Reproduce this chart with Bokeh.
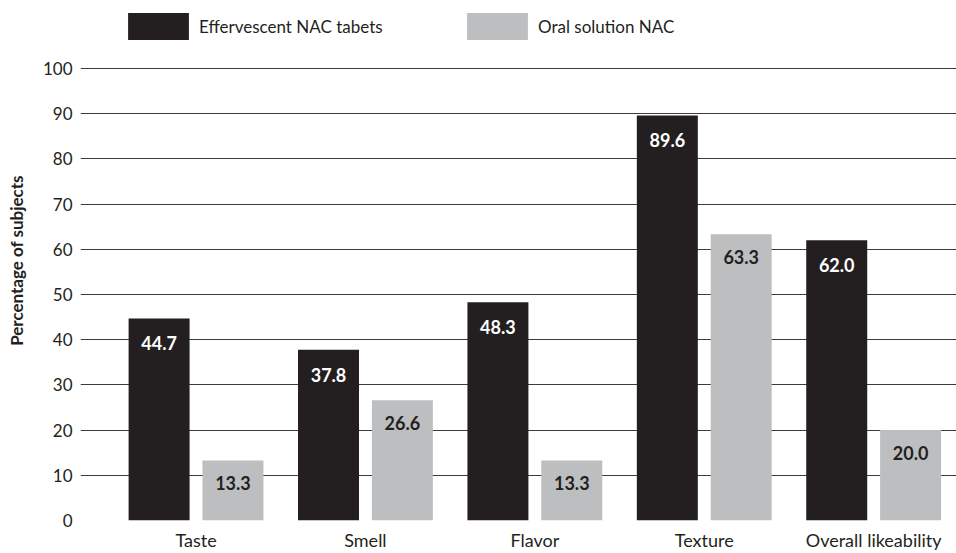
from bokeh.plotting import figure
from bokeh.models import Range1d, FixedTicker, Legend, LegendItem, ColumnDataSource
from bokeh.core.properties import value
from bokeh.embed import file_html
from bokeh.resources import INLINE

# ---- data ----
categories = ["Taste", "Smell", "Flavor", "Texture", "Overall likeability"]
effervescent = [44.7, 37.8, 48.3, 89.6, 62.0]
oral = [13.3, 26.6, 13.3, 63.3, 20.0]
series_names = ["Effervescent NAC tabets", "Oral solution NAC"]
y_ticks = [0, 10, 20, 30, 40, 50, 60, 70, 80, 90, 100]
y_title = "Percentage of subjects"

# ---- style ----
DARK = "#231f20"
LIGHT = "#bcbec0"
FONT = "Lato"
OFF = 0.218
BW = 0.36

idx = list(range(len(categories)))
src_a = ColumnDataSource(dict(x=[i - OFF for i in idx], top=effervescent,
                              lab=[f"{v:.1f}" for v in effervescent]))
src_b = ColumnDataSource(dict(x=[i + OFF for i in idx], top=oral,
                              lab=[f"{v:.1f}" for v in oral]))

p = figure(width=956, height=553, output_backend="svg", toolbar_location=None,
           x_range=Range1d(-0.682, 4.489), y_range=Range1d(0, 115.04),
           min_border_left=80, min_border_right=0, min_border_top=0,
           min_border_bottom=33)
p.outline_line_color = None
p.background_fill_color = "white"

r1 = p.vbar(x="x", top="top", width=BW, source=src_a, fill_color=DARK, line_color=None)
r2 = p.vbar(x="x", top="top", width=BW, source=src_b, fill_color=LIGHT, line_color=None)

p.text(x="x", y="top", text="lab", source=src_a, text_color="white",
       text_align="center", text_baseline="middle", y_offset=25,
       text_font=value(FONT), text_font_style="bold", text_font_size="18px")
p.text(x="x", y="top", text="lab", source=src_b, text_color=DARK,
       text_align="center", text_baseline="middle", y_offset=23,
       text_font=value(FONT), text_font_style="bold", text_font_size="18px")

# grid
p.xgrid.visible = False
p.ygrid.ticker = FixedTicker(ticks=y_ticks)
p.ygrid.grid_line_color = "#3c3c3c"
p.ygrid.grid_line_width = 1.2

# y axis
p.yaxis.ticker = FixedTicker(ticks=y_ticks)
p.yaxis.axis_line_color = None
p.yaxis.major_tick_line_color = None
p.yaxis.minor_tick_line_color = None
p.yaxis.major_tick_out = 0
p.yaxis.major_tick_in = 0
p.yaxis.minor_tick_out = 0
p.yaxis.major_label_standoff = 8
p.yaxis.major_label_text_font = FONT
p.yaxis.major_label_text_font_size = "17px"
p.yaxis.major_label_text_color = DARK
p.yaxis.axis_label = y_title
p.yaxis.axis_label_text_font = FONT
p.yaxis.axis_label_text_font_style = "bold"
p.yaxis.axis_label_text_font_size = "17px"
p.yaxis.axis_label_text_color = DARK
p.yaxis.axis_label_standoff = 13

# x axis
p.xaxis.ticker = FixedTicker(ticks=idx)
p.xaxis.major_label_overrides = {i: c for i, c in zip(idx, categories)}
p.xaxis.axis_line_color = None
p.xaxis.major_tick_line_color = None
p.xaxis.minor_tick_line_color = None
p.xaxis.major_tick_out = 0
p.xaxis.major_tick_in = 0
p.xaxis.minor_tick_out = 0
p.xaxis.major_label_standoff = 8
p.xaxis.major_label_text_font = FONT
p.xaxis.major_label_text_font_size = "18px"
p.xaxis.major_label_text_color = DARK

# legends
for r, name, loc in [(r1, series_names[0], (40, 477)), (r2, series_names[1], (379, 477))]:
    lg = Legend(items=[LegendItem(label=name, renderers=[r])], location=loc,
                orientation="horizontal", glyph_width=76, glyph_height=34,
                label_standoff=3, padding=0, margin=0, border_line_color=None,
                background_fill_alpha=0, label_text_font=FONT,
                label_text_font_size="17px", label_text_color=DARK)
    p.add_layout(lg)

open("out.html", "w").write(file_html(p, INLINE))
